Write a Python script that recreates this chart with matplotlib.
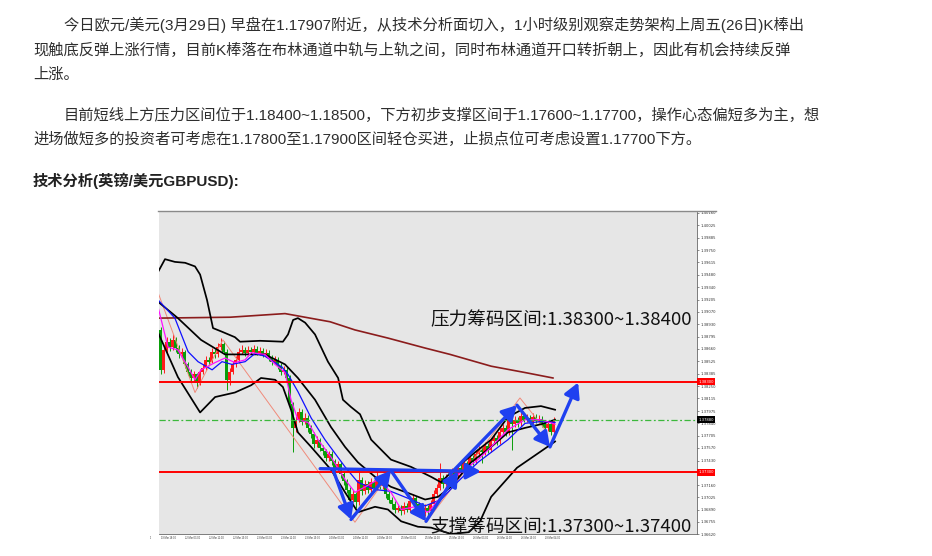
"""Article snippet with an hourly GBPUSD chart (bands, MAs, arrows, zones)."""

import matplotlib

matplotlib.use("Agg")

import matplotlib.pyplot as plt
from matplotlib import font_manager
from matplotlib.font_manager import FontProperties
from matplotlib.lines import Line2D
from matplotlib.transforms import Bbox

FIG_W, FIG_H = 932, 556

# ---------------------------------------------------------------- article text
PARAGRAPH_LINES = [
    "今日欧元/美元(3月29日) 早盘在1.17907附近，从技术分析面切入，1小时级别观察走势架构上周五(26日)K棒出",
    "现触底反弹上涨行情，目前K棒落在布林通道中轨与上轨之间，同时布林通道开口转折朝上，因此有机会持续反弹",
    "上涨。",
    "目前短线上方压力区间位于1.18400~1.18500，下方初步支撑区间于1.17600~1.17700，操作心态偏短多为主，想",
    "进场做短多的投资者可考虑在1.17800至1.17900区间轻仓买进，止损点位可考虑设置1.17700下方。",
]
HEADING = "技术分析(英镑/美元GBPUSD):"
RESISTANCE_NOTE = "压力筹码区间:1.38300~1.38400"
SUPPORT_NOTE = "支撑筹码区间:1.37300~1.37400"

# ---------------------------------------------------------------- chart data
PRICE_TOP = 1.4017
PRICE_BOTTOM = 1.3663

FIRST_OPEN = 1.3887
CLOSES = [
    1.3843, 1.3865, 1.3874, 1.3868, 1.3876, 1.3867, 1.3860, 1.3863, 1.3849, 1.3841,
    1.3834, 1.3838, 1.3829, 1.3841, 1.3845, 1.3854, 1.3852, 1.3863, 1.3860, 1.3868,
    1.3872, 1.3863, 1.3832, 1.3841, 1.3849, 1.3854, 1.3863, 1.3865, 1.3861, 1.3865,
    1.3863, 1.3866, 1.3862, 1.3864, 1.3860, 1.3862, 1.3856, 1.3852, 1.3854, 1.3847,
    1.3841, 1.3843, 1.3834, 1.3805, 1.3779, 1.3788, 1.3797, 1.3786, 1.3790, 1.3779,
    1.3772, 1.3761, 1.3766, 1.3757, 1.3753, 1.3746, 1.3750, 1.3742, 1.3735, 1.3739,
    1.3728, 1.3720, 1.3711, 1.3700, 1.3706, 1.3697, 1.3722, 1.3709, 1.3717, 1.3711,
    1.3719, 1.3713, 1.3722, 1.3715, 1.3718, 1.3706, 1.3700, 1.3695, 1.3689, 1.3691,
    1.3687, 1.3693, 1.3689, 1.3698, 1.3702, 1.3695, 1.3689, 1.3685, 1.3691, 1.3687,
    1.3695, 1.3706, 1.3713, 1.3724, 1.3717, 1.3724, 1.3720, 1.3731, 1.3726, 1.3735,
    1.3733, 1.3740, 1.3736, 1.3746, 1.3742, 1.3750, 1.3755, 1.3752, 1.3759, 1.3755,
    1.3764, 1.3768, 1.3764, 1.3775, 1.3779, 1.3774, 1.3790, 1.3783, 1.3788, 1.3784,
    1.3792, 1.3788, 1.3790, 1.3786, 1.3791, 1.3787, 1.3789, 1.3784, 1.3779, 1.3783,
    1.3775, 1.3788,
]
HIGHS = [
    1.3890, 1.3869, 1.3879, 1.3878, 1.3882, 1.3879, 1.3870, 1.3867, 1.3865, 1.3852,
    1.3844, 1.3842, 1.3840, 1.3844, 1.3849, 1.3858, 1.3857, 1.3867, 1.3866, 1.3873,
    1.3878, 1.3875, 1.3866, 1.3845, 1.3853, 1.3858, 1.3867, 1.3870, 1.3868, 1.3869,
    1.3868, 1.3870, 1.3869, 1.3868, 1.3867, 1.3866, 1.3865, 1.3859, 1.3858, 1.3857,
    1.3850, 1.3847, 1.3846, 1.3837, 1.3808, 1.3792, 1.3801, 1.3800, 1.3795, 1.3793,
    1.3782, 1.3775, 1.3770, 1.3768, 1.3760, 1.3756, 1.3754, 1.3753, 1.3745, 1.3743,
    1.3741, 1.3731, 1.3723, 1.3714, 1.3710, 1.3708, 1.3731, 1.3725, 1.3721, 1.3720,
    1.3724, 1.3722, 1.3731, 1.3725, 1.3722, 1.3720, 1.3709, 1.3703, 1.3698, 1.3695,
    1.3694, 1.3697, 1.3696, 1.3702, 1.3706, 1.3704, 1.3697, 1.3692, 1.3695, 1.3694,
    1.3699, 1.3710, 1.3717, 1.3740, 1.3727, 1.3728, 1.3727, 1.3735, 1.3734, 1.3739,
    1.3739, 1.3744, 1.3743, 1.3750, 1.3749, 1.3754, 1.3759, 1.3758, 1.3763, 1.3762,
    1.3768, 1.3772, 1.3771, 1.3779, 1.3783, 1.3782, 1.3800, 1.3793, 1.3792, 1.3791,
    1.3796, 1.3795, 1.3794, 1.3793, 1.3795, 1.3794, 1.3793, 1.3792, 1.3787, 1.3787,
    1.3785, 1.3791,
]
LOWS = [
    1.3838, 1.3840, 1.3862, 1.3864, 1.3865, 1.3863, 1.3856, 1.3857, 1.3845, 1.3837,
    1.3830, 1.3831, 1.3823, 1.3826, 1.3838, 1.3843, 1.3848, 1.3850, 1.3856, 1.3857,
    1.3865, 1.3860, 1.3821, 1.3826, 1.3838, 1.3846, 1.3851, 1.3860, 1.3858, 1.3858,
    1.3860, 1.3860, 1.3859, 1.3859, 1.3857, 1.3857, 1.3853, 1.3848, 1.3849, 1.3844,
    1.3837, 1.3838, 1.3830, 1.3800, 1.3752, 1.3774, 1.3785, 1.3782, 1.3783, 1.3775,
    1.3768, 1.3757, 1.3758, 1.3753, 1.3749, 1.3742, 1.3743, 1.3738, 1.3731, 1.3732,
    1.3724, 1.3716, 1.3707, 1.3695, 1.3697, 1.3691, 1.3694, 1.3705, 1.3706, 1.3707,
    1.3708, 1.3710, 1.3710, 1.3712, 1.3712, 1.3702, 1.3696, 1.3690, 1.3685, 1.3686,
    1.3683, 1.3684, 1.3686, 1.3686, 1.3695, 1.3691, 1.3685, 1.3680, 1.3682, 1.3683,
    1.3684, 1.3692, 1.3703, 1.3710, 1.3713, 1.3714, 1.3716, 1.3717, 1.3722, 1.3723,
    1.3729, 1.3730, 1.3732, 1.3733, 1.3738, 1.3739, 1.3746, 1.3740, 1.3749, 1.3751,
    1.3752, 1.3761, 1.3760, 1.3761, 1.3772, 1.3770, 1.3771, 1.3755, 1.3780, 1.3780,
    1.3781, 1.3785, 1.3785, 1.3782, 1.3783, 1.3784, 1.3784, 1.3780, 1.3775, 1.3776,
    1.3771, 1.3772,
]

# indicator lines, sampled at bar positions
UPPER_BAND_BARS = [-0.8, 1.5, 4.8, 8.2, 11.5, 13.2, 15.5, 17.5, 20.5, 24.8, 26.5, 33.2,
                   40.8, 42.5, 44.2, 45.8, 48.2, 51.5, 55.8, 59.2, 60.8, 63.5, 66.5, 70.2,
                   76.8, 83.5, 90.2, 93.5, 96.8, 104.8, 110.2, 115.8, 121.5, 126.8, 131.5]
UPPER_BAND = [1.3951, 1.3965, 1.3962, 1.3961, 1.3957, 1.3948, 1.3920, 1.3889, 1.3885,
              1.3879, 1.3874, 1.3875, 1.3874, 1.3882, 1.3898, 1.3900, 1.3895, 1.3882,
              1.3852, 1.3834, 1.3810, 1.3802, 1.3794, 1.3766, 1.3744, 1.3736, 1.3725,
              1.3719, 1.3730, 1.3752, 1.3766, 1.3791, 1.3801, 1.3803, 1.3799]

MIDDLE_BAND_BARS = [-0.8, 5.8, 13.5, 21.5, 28.2, 34.8, 41.5, 45.8, 51.5, 56.8, 61.5, 65.8,
                    71.5, 76.8, 83.5, 88.2, 92.5, 96.8, 103.5, 110.2, 115.8, 121.5, 126.8,
                    131.5]
MIDDLE_BAND = [1.3918, 1.3900, 1.3876, 1.3860, 1.3860, 1.3860, 1.3849, 1.3834, 1.3810,
               1.3780, 1.3758, 1.3741, 1.3725, 1.3714, 1.3706, 1.3700, 1.3703, 1.3714,
               1.3741, 1.3758, 1.3774, 1.3779, 1.3783, 1.3788]

LOWER_BAND_BARS = [-0.8, 5.8, 13.2, 18.2, 24.8, 30.2, 33.5, 38.2, 40.8, 43.5, 45.8, 50.2,
                   56.8, 61.5, 65.8, 71.5, 75.8, 80.2, 85.8, 90.2, 96.8, 102.8, 106.5,
                   110.2, 118.8, 129.8, 131.5]
LOWER_BAND = [1.3884, 1.3835, 1.3796, 1.3813, 1.3818, 1.3826, 1.3834, 1.3832, 1.3824,
              1.3799, 1.3774, 1.3758, 1.3733, 1.3708, 1.3686, 1.3692, 1.3689, 1.3676,
              1.3670, 1.3669, 1.3662, 1.3664, 1.3676, 1.3703, 1.3735, 1.3760, 1.3764]

SLOW_MA_BARS = [-0.8, 23.2, 41.5, 46.5, 56.5, 64.8, 75.8, 88.2, 96.5, 110.2, 121.5, 130.8]
SLOW_MA = [1.3900, 1.3901, 1.3905, 1.3902, 1.3896, 1.3887, 1.3878, 1.3867, 1.3860,
           1.3847, 1.3840, 1.3834]

BLUE_MA_BARS = [-0.8, 4.8, 9.2, 12.5, 17.2, 20.5, 23.8, 28.2, 31.5, 34.8, 40.5, 42.5,
                45.8, 50.2, 54.8, 61.5, 65.8, 71.5, 76.8, 83.5, 88.2, 93.5, 99.2, 105.8,
                110.2, 115.8, 121.5, 126.8, 131.5]
BLUE_MA = [1.3920, 1.3900, 1.3863, 1.3852, 1.3843, 1.3852, 1.3849, 1.3852, 1.3861,
           1.3858, 1.3846, 1.3838, 1.3819, 1.3790, 1.3766, 1.3736, 1.3719, 1.3711,
           1.3709, 1.3700, 1.3693, 1.3700, 1.3720, 1.3741, 1.3752, 1.3766, 1.3784,
           1.3786, 1.3785]

FAST_MA_BARS = [-0.8, 2.5, 5.8, 9.2, 11.5, 13.5, 18.2, 21.5, 24.8, 28.2, 30.2, 34.8,
                38.2, 41.5, 43.5, 45.8, 49.2, 52.5, 56.8, 61.5, 64.8, 68.2, 72.5, 76.8,
                80.2, 84.8, 89.2, 93.5, 96.8, 101.5, 105.8, 110.2, 115.8, 121.5, 126.8,
                131.5]
FAST_MA = [1.3912, 1.3868, 1.3865, 1.3846, 1.3832, 1.3843, 1.3851, 1.3856, 1.3851,
           1.3854, 1.3862, 1.3860, 1.3849, 1.3840, 1.3810, 1.3788, 1.3785, 1.3766,
           1.3747, 1.3722, 1.3708, 1.3714, 1.3722, 1.3708, 1.3689, 1.3692, 1.3686,
           1.3703, 1.3722, 1.3733, 1.3744, 1.3758, 1.3777, 1.3788, 1.3788, 1.3783]

ZIGZAG_BARS = [-0.8, 11.5, 20.8, 64.8, 76.8, 88.5, 119.8, 128.2]
ZIGZAG = [1.3928, 1.3818, 1.3876, 1.3675, 1.3731, 1.3675, 1.3812, 1.3777]

# hand-drawn arrows: (start bar, start price, end bar, end price)
ARROWS = [
    (53.2, 1.3734, 106.8, 1.3731),
    (57.5, 1.3733, 63.5, 1.3678),
    (63.5, 1.3678, 76.8, 1.3732),
    (76.8, 1.3732, 88.5, 1.3676),
    (88.5, 1.3676, 99.2, 1.3731),
    (96.5, 1.3728, 118.8, 1.3804),
    (118.8, 1.3804, 129.8, 1.3758),
    (129.8, 1.3758, 139.2, 1.3829),
]

RESISTANCE_LEVEL = 1.3830
SUPPORT_LEVEL = 1.3730
CURRENT_PRICE = 1.3788

# 1.37295 sits under the support price box, so it is left out
PRICE_TICKS = [1.40160, 1.40025, 1.39885, 1.39750, 1.39615, 1.39480, 1.39340, 1.39205,
               1.39070, 1.38930, 1.38795, 1.38660, 1.38525, 1.38385, 1.38250, 1.38115,
               1.37975, 1.37840, 1.37705, 1.37570, 1.37430, 1.37160, 1.37025,
               1.36890, 1.36755, 1.36620]

TIME_LABELS = ["19 Mar 10:00", "19 Mar 18:00", "22 Mar 03:00", "22 Mar 11:00",
               "22 Mar 19:00", "23 Mar 03:00", "23 Mar 11:00", "23 Mar 19:00",
               "24 Mar 03:00", "24 Mar 11:00", "24 Mar 19:00", "25 Mar 03:00",
               "25 Mar 11:00", "25 Mar 19:00", "26 Mar 03:00", "26 Mar 11:00",
               "26 Mar 19:00", "29 Mar 04:00"]
BARS_PER_LABEL = 8

UP_COLOR = "#ff1a1a"
DOWN_COLOR = "#0a9e0a"
ARROW_BLUE = "#1f40f0"


def fx(x):
    return x / FIG_W


def fy(y):
    return 1 - y / FIG_H


def font_available(name):
    try:
        font_manager.findfont(FontProperties(family=name), fallback_to_default=False)
        return True
    except ValueError:
        return False


latin = "Liberation Sans Narrow" if font_available("Liberation Sans Narrow") else "Liberation Sans"
TEXT_FAMILY = [latin, "Noto Sans CJK SC"]

fig = plt.figure(figsize=(FIG_W / 100, FIG_H / 100), dpi=100)
fig.patch.set_facecolor("white")

# article paragraphs
text_pos = [(64, 25), (33, 50), (33, 75), (64, 115), (33, 139)]
for (x, y), line in zip(text_pos, PARAGRAPH_LINES):
    fig.text(fx(x), fy(y), line, family=TEXT_FAMILY, fontsize=11.0,
             color="#2e2e2e", va="center", ha="left")
fig.text(fx(33), fy(181), HEADING, family=TEXT_FAMILY, fontsize=11.0,
         fontweight="bold", color="#222222", va="center", ha="left")

# chart
ax = fig.add_axes([fx(159), fy(534), (697 - 159) / FIG_W, (534 - 212) / FIG_H])
ax.set_facecolor("#e6e6e6")
ax.set_xlim(-0.5, 178.8)
ax.set_ylim(PRICE_BOTTOM, PRICE_TOP)

opens = [FIRST_OPEN] + CLOSES[:-1]
bars = list(range(len(CLOSES)))
colors = [UP_COLOR if c >= o else DOWN_COLOR for o, c in zip(opens, CLOSES)]
bottoms = [min(o, c) for o, c in zip(opens, CLOSES)]
heights = [max(abs(c - o), 0.00005) for o, c in zip(opens, CLOSES)]
ax.vlines(bars, LOWS, HIGHS, colors=colors, lw=0.7, zorder=2)
ax.bar(bars, heights, bottom=bottoms, width=0.75, color=colors, linewidth=0, zorder=2)

ax.plot(ZIGZAG_BARS, ZIGZAG, color="#f08a7a", lw=0.7, zorder=2.5)
ax.plot(SLOW_MA_BARS, SLOW_MA, color="#8b1c1c", lw=1.2, zorder=3)
for xs, ys in [(UPPER_BAND_BARS, UPPER_BAND), (MIDDLE_BAND_BARS, MIDDLE_BAND),
               (LOWER_BAND_BARS, LOWER_BAND)]:
    ax.plot(xs, ys, color="black", lw=1.25, zorder=3)
ax.plot(BLUE_MA_BARS, BLUE_MA, color="#1010ff", lw=0.9, zorder=3.2)
ax.plot(FAST_MA_BARS, FAST_MA, color="#ff10ff", lw=0.9, zorder=3.3)

ax.axhline(RESISTANCE_LEVEL, color="#ff0000", lw=1.4, zorder=3.5)
ax.axhline(SUPPORT_LEVEL, color="#ff0000", lw=1.4, zorder=3.5)
ax.axhline(CURRENT_PRICE, color="#3cb83c", lw=0.9, ls=(0, (5, 2, 1.5, 2)), zorder=3.5)

for x0, y0, x1, y1 in ARROWS:
    ax.annotate("", xy=(x1, y1), xytext=(x0, y0),
                arrowprops=dict(arrowstyle="-|>,head_length=0.55,head_width=0.3",
                                color=ARROW_BLUE, lw=2.4, mutation_scale=16,
                                shrinkA=0, shrinkB=0),
                zorder=5)

fig.text(fx(692), fy(320), RESISTANCE_NOTE, family="Noto Sans CJK SC", fontsize=13.4,
         color="#111111", ha="right", va="center", zorder=6)
fig.text(fx(692), fy(527), SUPPORT_NOTE, family="Noto Sans CJK SC", fontsize=13.4,
         color="#111111", ha="right", va="center", zorder=6)

# price axis on the right
ax.yaxis.tick_right()
ax.set_yticks(PRICE_TICKS)
ax.set_yticklabels([f"{p:.5f}" for p in PRICE_TICKS])
ax.tick_params(axis="y", labelsize=2.7, length=1.5, width=0.4, pad=1, colors="#333333")
for level, face in [(RESISTANCE_LEVEL, "#ff0000"), (SUPPORT_LEVEL, "#ff0000"),
                    (CURRENT_PRICE, "#000000")]:
    ax.text(1.002, level, f"{level:.5f}", transform=ax.get_yaxis_transform(),
            ha="left", va="center", fontsize=2.7, color="white", clip_on=False,
            bbox=dict(boxstyle="square,pad=0.35", fc=face, ec="none"), zorder=7)

# time axis
ax.set_xticks([])
label_clip = Bbox.from_extents(150, 0, 716, FIG_H)
for k, label in enumerate(TIME_LABELS):
    bar = (k - 1) * BARS_PER_LABEL
    t = ax.text(bar, -0.006, label, transform=ax.get_xaxis_transform(),
                ha="left", va="top", fontsize=1.8, family="Liberation Sans",
                color="#333333", clip_on=True)
    t.set_clip_box(label_clip)

for side in ["left", "top"]:
    ax.spines[side].set_visible(False)
for side in ["right", "bottom"]:
    ax.spines[side].set_color("#666666")
    ax.spines[side].set_linewidth(0.6)

fig.add_artist(Line2D([fx(158), fx(716)], [fy(211), fy(211)], color="#8a8a8a", lw=1.0))

fig.savefig("out.png", dpi=100, facecolor="white")
